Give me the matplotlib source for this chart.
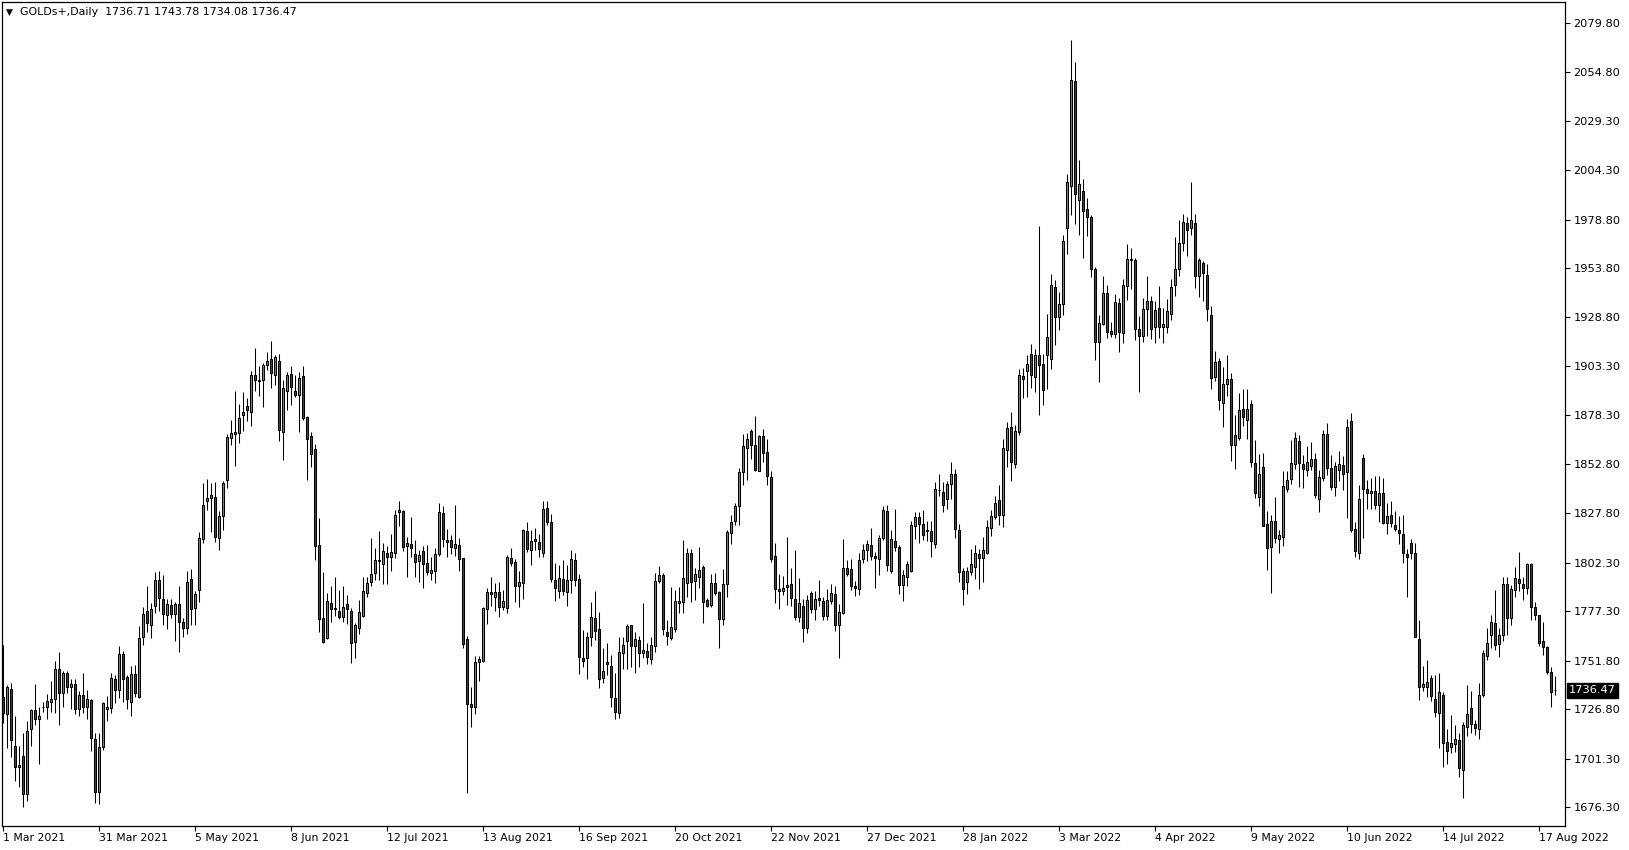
import numpy as np
import matplotlib.pyplot as plt

plt.rcParams['font.family'] = 'DejaVu Sans'

symbol = 'GOLDs+,Daily'
last_ohlc = (1736.71, 1743.78, 1734.08, 1736.47)

# daily bars, left to right (bar index = position)
opens = [
    1733.0, 1724.2, 1737.1, 1707.9, 1696.9, 1702.7, 1683.0, 1716.8, 1726.4, 1721.6,
    1727.8, 1727.8, 1730.4, 1732.1, 1747.4, 1735.0, 1745.3, 1738.1, 1739.7, 1726.8,
    1734.0, 1727.8, 1731.6, 1711.3, 1684.4, 1707.2, 1727.1, 1727.6, 1742.4, 1736.7,
    1755.3, 1743.3, 1730.4, 1745.0, 1733.3, 1763.8, 1777.1, 1770.2, 1780.0, 1793.2,
    1783.4, 1775.4, 1780.3, 1775.7, 1780.9, 1771.9, 1768.5, 1793.7, 1778.8, 1788.1,
    1814.3, 1833.8, 1835.5, 1836.0, 1814.9, 1826.5, 1844.9, 1866.4, 1868.6, 1869.0,
    1878.1, 1883.1, 1879.8, 1899.0, 1895.6, 1896.1, 1903.8, 1907.1, 1898.7, 1906.2,
    1869.3, 1890.4, 1899.5, 1890.8, 1888.7, 1898.5, 1877.2, 1867.6, 1860.9, 1811.4,
    1773.6, 1763.3, 1781.7, 1779.1, 1777.1, 1774.2, 1780.9, 1777.4, 1761.3, 1768.5,
    1775.0, 1786.5, 1792.2, 1796.8, 1803.2, 1801.5, 1807.1, 1804.9, 1807.1, 1828.1,
    1828.9, 1810.9, 1811.8, 1806.6, 1803.3, 1808.3, 1802.0, 1796.8, 1797.7, 1806.8,
    1827.7, 1814.0, 1814.0, 1809.7, 1811.1, 1804.5, 1763.2, 1729.3, 1728.1, 1751.3,
    1751.8, 1778.3, 1787.0, 1784.8, 1786.9, 1779.3, 1779.1, 1804.5, 1802.8, 1790.3,
    1791.7, 1818.6, 1808.5, 1813.5, 1812.8, 1807.1, 1830.5, 1823.1, 1793.4, 1787.9,
    1793.8, 1787.1, 1793.1, 1803.7, 1793.8, 1753.1, 1753.1, 1764.2, 1773.7, 1768.2,
    1743.1, 1751.0, 1749.1, 1732.5, 1724.7, 1755.7, 1761.7, 1770.3, 1759.1, 1762.5,
    1755.7, 1756.9, 1752.6, 1759.1, 1792.9, 1796.0, 1766.3, 1763.4, 1768.0, 1781.3,
    1781.9, 1792.0, 1807.1, 1793.0, 1795.1, 1799.9, 1783.1, 1780.5, 1791.6, 1787.3,
    1773.3, 1791.3, 1817.7, 1823.9, 1831.5, 1848.7, 1861.2, 1869.8, 1862.6, 1849.5,
    1867.2, 1859.0, 1846.1, 1805.7, 1788.9, 1787.9, 1789.6, 1791.1, 1783.4, 1774.5,
    1780.0, 1768.5, 1786.8, 1778.3, 1783.9, 1782.3, 1775.0, 1782.3, 1786.2, 1770.0,
    1776.3, 1799.4, 1798.9, 1790.3, 1788.6, 1804.1, 1808.5, 1811.1, 1805.8, 1804.2,
    1814.9, 1829.0, 1798.2, 1813.5, 1810.3, 1790.5, 1794.6, 1797.7, 1820.9, 1825.7,
    1822.3, 1818.9, 1818.3, 1812.0, 1839.5, 1838.6, 1835.2, 1842.5, 1847.9, 1819.2,
    1797.9, 1792.1, 1797.5, 1800.2, 1806.6, 1804.7, 1807.2, 1820.2, 1825.7, 1834.4,
    1827.0, 1860.0, 1872.0, 1853.2, 1869.7, 1898.4, 1900.7, 1909.4, 1897.8, 1908.9,
    1904.6, 1908.9, 1906.9, 1944.3, 1928.8, 1935.6, 1974.4, 1996.1, 2050.0, 1989.1,
    1993.4, 1984.3, 1980.2, 1953.4, 1915.6, 1925.3, 1941.1, 1921.3, 1919.9, 1935.9,
    1920.5, 1944.8, 1957.9, 1957.9, 1922.5, 1918.7, 1932.8, 1937.1, 1923.5, 1933.3,
    1923.5, 1923.5, 1930.4, 1945.0, 1953.4, 1966.8, 1977.1, 1974.5, 1977.1, 1949.6,
    1956.5, 1950.5, 1929.9, 1897.8, 1905.8, 1884.4, 1894.0, 1897.0, 1863.0, 1866.4,
    1881.3, 1875.8, 1883.9, 1853.5, 1836.0, 1851.5, 1822.1, 1810.2, 1823.8, 1814.4,
    1815.4, 1840.1, 1845.3, 1853.2, 1864.7, 1853.2, 1850.1, 1852.2, 1855.6, 1835.0,
    1845.8, 1868.5, 1850.9, 1841.0, 1849.7, 1852.7, 1848.9, 1875.0, 1819.5, 1807.1,
    1856.0, 1840.0, 1838.0, 1839.0, 1832.0, 1838.0, 1822.6, 1827.0, 1821.7, 1819.2,
    1817.1, 1806.8, 1812.3, 1807.1, 1763.0, 1738.1, 1738.4, 1742.7, 1732.1, 1725.0,
    1734.1, 1710.1, 1707.2, 1708.7, 1711.0, 1695.5, 1717.5, 1727.3, 1719.2, 1716.4,
    1734.1, 1754.2, 1765.1, 1771.1, 1760.4, 1765.0, 1791.3, 1773.6, 1788.2, 1793.7,
    1791.2, 1789.1, 1801.6, 1779.3, 1775.4, 1762.0, 1759.0, 1746.2, 1736.71,
]
highs = [
    1759.9, 1739.3, 1740.2, 1723.3, 1707.9, 1714.4, 1720.9, 1726.8, 1739.8, 1727.8,
    1730.4, 1734.7, 1741.4, 1751.7, 1756.0, 1746.7, 1746.7, 1742.2, 1742.4, 1736.4,
    1745.7, 1736.7, 1731.9, 1714.4, 1714.4, 1730.4, 1733.6, 1745.3, 1744.5, 1759.1,
    1757.0, 1744.5, 1749.1, 1749.6, 1769.4, 1779.3, 1790.3, 1781.7, 1797.4, 1798.0,
    1795.8, 1783.6, 1783.6, 1782.2, 1790.3, 1773.6, 1798.0, 1799.1, 1787.7, 1818.0,
    1843.2, 1845.3, 1843.2, 1843.9, 1828.6, 1844.1, 1868.6, 1875.5, 1890.4, 1884.1,
    1889.9, 1887.0, 1900.7, 1912.8, 1903.7, 1905.0, 1910.5, 1916.2, 1909.3, 1909.8,
    1896.4, 1900.2, 1903.7, 1899.0, 1900.2, 1903.3, 1877.9, 1869.3, 1863.5, 1825.2,
    1797.2, 1786.5, 1790.3, 1794.8, 1788.2, 1790.3, 1785.7, 1778.8, 1771.1, 1783.1,
    1795.1, 1795.1, 1814.9, 1809.7, 1818.6, 1812.3, 1810.9, 1817.1, 1829.5, 1834.1,
    1829.5, 1815.4, 1825.5, 1814.0, 1808.5, 1810.6, 1811.4, 1805.4, 1809.7, 1833.2,
    1831.5, 1819.7, 1816.6, 1832.0, 1814.8, 1804.5, 1764.5, 1738.4, 1754.2, 1754.2,
    1779.6, 1789.1, 1795.1, 1791.7, 1792.5, 1788.2, 1806.3, 1809.7, 1804.2, 1798.2,
    1819.5, 1823.4, 1819.1, 1820.0, 1817.1, 1834.1, 1834.0, 1827.4, 1802.0, 1801.2,
    1803.7, 1801.2, 1808.9, 1807.2, 1796.5, 1767.7, 1766.8, 1781.8, 1787.4, 1776.6,
    1758.2, 1760.8, 1754.8, 1745.4, 1764.2, 1764.2, 1770.8, 1770.3, 1766.8, 1764.6,
    1781.4, 1760.8, 1764.2, 1796.9, 1800.6, 1796.9, 1772.5, 1789.7, 1788.3, 1789.9,
    1814.0, 1810.0, 1809.2, 1799.4, 1810.5, 1801.1, 1783.9, 1796.3, 1796.8, 1787.9,
    1799.0, 1818.8, 1826.8, 1833.2, 1850.9, 1868.6, 1868.9, 1871.0, 1877.5, 1868.1,
    1871.0, 1865.8, 1849.2, 1812.3, 1796.5, 1795.4, 1815.7, 1799.4, 1808.8, 1794.2,
    1783.4, 1785.6, 1787.9, 1787.4, 1793.4, 1784.8, 1788.6, 1791.2, 1790.3, 1781.1,
    1814.5, 1803.7, 1804.2, 1792.9, 1807.2, 1811.8, 1813.7, 1820.0, 1807.7, 1816.6,
    1831.2, 1832.1, 1818.8, 1830.0, 1811.5, 1798.6, 1802.9, 1823.5, 1828.1, 1828.1,
    1829.5, 1823.5, 1823.5, 1843.6, 1848.0, 1843.7, 1844.5, 1854.2, 1850.3, 1822.2,
    1799.5, 1800.2, 1809.2, 1811.1, 1809.2, 1815.4, 1824.1, 1829.3, 1836.3, 1842.1,
    1865.8, 1874.5, 1879.8, 1873.2, 1901.7, 1902.6, 1908.9, 1914.7, 1912.3, 1975.4,
    1909.8, 1930.2, 1950.8, 1947.6, 1941.4, 1970.9, 2002.5, 2071.0, 2059.7, 2009.7,
    1999.6, 1990.0, 1981.4, 1954.5, 1929.9, 1950.0, 1945.4, 1925.9, 1940.7, 1938.5,
    1948.3, 1966.5, 1964.2, 1959.1, 1929.4, 1938.5, 1950.0, 1939.4, 1937.1, 1944.8,
    1933.3, 1938.0, 1948.3, 1969.9, 1978.5, 1981.8, 1980.0, 1998.2, 1981.8, 1959.1,
    1957.4, 1955.7, 1934.5, 1911.3, 1907.6, 1903.0, 1909.0, 1900.0, 1878.4, 1889.6,
    1891.5, 1891.5, 1885.8, 1865.5, 1858.2, 1858.7, 1829.0, 1826.9, 1836.0, 1819.2,
    1849.2, 1849.2, 1865.5, 1869.5, 1868.1, 1857.8, 1862.1, 1864.2, 1858.7, 1850.1,
    1870.7, 1874.1, 1857.8, 1853.9, 1859.9, 1856.9, 1876.2, 1879.3, 1823.0, 1842.0,
    1858.0, 1845.0, 1846.0, 1847.0, 1847.0, 1846.0, 1833.0, 1834.0, 1829.0, 1826.0,
    1827.0, 1809.2, 1814.3, 1812.3, 1772.8, 1749.1, 1752.2, 1744.4, 1744.4, 1745.3,
    1735.9, 1716.5, 1723.8, 1718.7, 1714.4, 1720.4, 1739.3, 1736.4, 1721.3, 1740.5,
    1757.3, 1768.5, 1775.4, 1788.2, 1768.5, 1795.1, 1795.1, 1790.8, 1800.2, 1807.6,
    1795.1, 1802.3, 1802.0, 1782.2, 1775.4, 1771.9, 1759.4, 1748.7, 1743.78,
]
lows = [
    1719.6, 1707.0, 1702.0, 1690.0, 1686.9, 1676.6, 1679.7, 1708.1, 1718.7, 1698.6,
    1725.2, 1721.6, 1725.6, 1724.7, 1718.7, 1728.1, 1735.0, 1727.0, 1724.2, 1723.3,
    1724.7, 1721.6, 1705.5, 1678.7, 1678.0, 1705.8, 1720.9, 1724.7, 1730.2, 1732.4,
    1730.7, 1727.0, 1723.5, 1733.3, 1732.4, 1759.9, 1766.3, 1763.3, 1776.2, 1777.1,
    1769.9, 1768.2, 1773.6, 1762.1, 1756.0, 1764.2, 1765.6, 1770.2, 1769.9, 1781.9,
    1812.6, 1829.5, 1817.8, 1813.0, 1808.5, 1819.2, 1840.6, 1863.0, 1851.8, 1863.8,
    1869.8, 1875.0, 1872.4, 1890.4, 1887.9, 1882.2, 1901.2, 1892.1, 1893.9, 1864.7,
    1854.9, 1881.0, 1883.6, 1887.5, 1869.3, 1875.8, 1844.6, 1851.5, 1803.4, 1766.8,
    1760.8, 1762.8, 1771.9, 1774.9, 1773.1, 1771.9, 1770.5, 1750.5, 1753.0, 1765.6,
    1774.2, 1784.8, 1790.0, 1793.4, 1793.4, 1791.3, 1791.3, 1798.2, 1804.4, 1820.9,
    1808.0, 1794.8, 1805.1, 1794.8, 1792.5, 1789.4, 1796.0, 1793.4, 1792.0, 1805.7,
    1810.2, 1805.4, 1806.8, 1805.7, 1797.7, 1758.5, 1683.8, 1717.5, 1724.2, 1741.5,
    1751.3, 1770.5, 1780.0, 1777.1, 1774.5, 1777.9, 1776.2, 1800.3, 1782.2, 1779.6,
    1783.6, 1807.5, 1801.1, 1808.8, 1805.1, 1805.0, 1821.4, 1792.1, 1782.3, 1784.0,
    1785.7, 1780.0, 1786.6, 1790.0, 1745.0, 1748.4, 1742.3, 1759.4, 1762.5, 1737.6,
    1740.2, 1744.5, 1727.8, 1721.7, 1722.2, 1747.4, 1747.4, 1748.4, 1745.7, 1748.4,
    1753.1, 1750.0, 1750.2, 1756.5, 1791.7, 1765.1, 1760.0, 1762.5, 1766.8, 1776.2,
    1776.2, 1784.8, 1782.2, 1783.1, 1789.1, 1771.4, 1779.6, 1779.3, 1785.6, 1758.2,
    1770.2, 1784.8, 1811.9, 1821.7, 1821.7, 1842.3, 1844.9, 1855.7, 1849.5, 1849.2,
    1854.3, 1842.3, 1802.8, 1781.7, 1778.2, 1785.6, 1780.5, 1780.0, 1772.8, 1771.9,
    1761.6, 1765.9, 1776.2, 1772.8, 1779.7, 1772.8, 1772.8, 1781.1, 1767.0, 1753.0,
    1775.9, 1795.5, 1788.3, 1785.2, 1785.7, 1802.0, 1802.9, 1803.7, 1789.1, 1796.0,
    1814.0, 1798.2, 1796.9, 1808.0, 1786.2, 1782.3, 1790.0, 1797.2, 1814.5, 1812.3,
    1814.0, 1813.2, 1805.4, 1809.7, 1836.4, 1828.1, 1829.9, 1835.2, 1815.0, 1792.1,
    1780.5, 1785.9, 1796.0, 1794.0, 1788.6, 1792.5, 1806.6, 1815.8, 1824.7, 1821.6,
    1820.8, 1851.3, 1844.5, 1850.7, 1868.1, 1886.8, 1887.5, 1892.0, 1890.0, 1878.4,
    1883.3, 1891.4, 1901.7, 1914.3, 1922.0, 1929.8, 1961.2, 1981.2, 1976.3, 1970.9,
    1958.9, 1970.6, 1949.3, 1906.7, 1895.0, 1924.7, 1917.9, 1918.4, 1917.9, 1910.5,
    1915.3, 1937.3, 1943.1, 1916.7, 1889.9, 1915.6, 1918.7, 1917.4, 1915.3, 1917.9,
    1915.3, 1920.4, 1927.3, 1939.7, 1949.6, 1962.5, 1959.9, 1971.1, 1943.6, 1938.8,
    1936.8, 1926.5, 1891.6, 1895.5, 1880.9, 1872.1, 1888.0, 1854.4, 1850.4, 1865.5,
    1872.4, 1865.9, 1851.5, 1835.5, 1831.5, 1820.9, 1798.6, 1786.5, 1812.3, 1807.1,
    1810.6, 1838.4, 1842.9, 1850.4, 1841.2, 1840.6, 1847.0, 1850.1, 1835.5, 1828.1,
    1844.1, 1847.5, 1839.8, 1836.3, 1844.1, 1839.8, 1825.2, 1817.8, 1805.1, 1804.0,
    1815.0, 1830.0, 1830.0, 1830.0, 1823.0, 1822.2, 1817.1, 1820.5, 1818.3, 1811.9,
    1802.3, 1784.5, 1804.0, 1763.9, 1731.6, 1736.4, 1732.9, 1731.2, 1723.0, 1706.7,
    1697.2, 1698.6, 1704.4, 1705.0, 1692.1, 1680.9, 1713.0, 1714.4, 1713.5, 1711.3,
    1733.3, 1752.2, 1758.2, 1757.3, 1753.9, 1762.1, 1765.0, 1770.2, 1784.5, 1787.4,
    1783.1, 1786.2, 1772.8, 1772.8, 1759.1, 1754.7, 1744.9, 1727.8, 1734.08,
]
closes = [
    1724.7, 1738.1, 1710.8, 1696.9, 1698.1, 1683.0, 1715.6, 1726.4, 1721.6, 1723.2,
    1728.2, 1730.9, 1732.1, 1747.4, 1735.0, 1745.3, 1738.1, 1739.7, 1726.8, 1734.0,
    1727.8, 1731.9, 1711.8, 1684.4, 1707.2, 1729.9, 1727.8, 1742.7, 1736.7, 1755.3,
    1742.6, 1732.1, 1745.0, 1735.4, 1763.3, 1775.7, 1771.1, 1778.3, 1793.2, 1784.0,
    1775.9, 1780.9, 1775.9, 1780.9, 1771.9, 1768.5, 1792.2, 1778.3, 1786.0, 1814.9,
    1831.9, 1835.5, 1837.2, 1815.4, 1826.4, 1843.2, 1866.9, 1869.0, 1869.5, 1876.7,
    1880.0, 1880.6, 1899.0, 1896.1, 1896.4, 1904.2, 1905.9, 1899.9, 1907.9, 1870.3,
    1892.1, 1899.0, 1892.5, 1888.4, 1897.3, 1876.7, 1865.9, 1858.3, 1810.9, 1773.1,
    1761.3, 1782.6, 1778.3, 1778.3, 1774.5, 1779.3, 1778.3, 1760.8, 1770.0, 1776.7,
    1787.7, 1791.7, 1796.3, 1803.7, 1803.6, 1808.3, 1805.4, 1807.7, 1826.9, 1829.5,
    1810.1, 1812.6, 1809.7, 1802.8, 1806.3, 1801.5, 1797.3, 1798.5, 1806.6, 1828.2,
    1814.3, 1813.1, 1810.2, 1811.8, 1804.0, 1760.4, 1729.3, 1728.1, 1751.3, 1752.5,
    1778.8, 1787.0, 1786.0, 1787.0, 1779.6, 1782.6, 1805.1, 1802.3, 1790.3, 1792.2,
    1819.1, 1809.4, 1813.5, 1814.3, 1809.4, 1830.0, 1823.1, 1793.8, 1789.1, 1794.3,
    1787.4, 1793.4, 1804.1, 1793.4, 1753.6, 1751.4, 1763.9, 1774.2, 1767.3, 1742.3,
    1746.7, 1750.0, 1733.3, 1725.6, 1756.5, 1760.0, 1769.7, 1759.6, 1763.0, 1755.7,
    1757.4, 1753.6, 1760.0, 1792.9, 1796.0, 1768.0, 1764.6, 1769.0, 1782.3, 1782.5,
    1794.2, 1807.1, 1792.5, 1796.5, 1798.5, 1782.2, 1780.1, 1791.6, 1786.8, 1773.3,
    1791.1, 1817.9, 1823.4, 1831.5, 1849.0, 1862.1, 1865.8, 1862.6, 1850.0, 1867.2,
    1858.6, 1847.0, 1804.0, 1788.6, 1787.9, 1789.4, 1790.8, 1783.9, 1774.1, 1781.3,
    1768.5, 1783.1, 1778.3, 1783.5, 1783.0, 1775.0, 1783.1, 1786.6, 1770.0, 1776.8,
    1799.4, 1796.3, 1790.3, 1789.1, 1803.7, 1808.9, 1811.8, 1805.8, 1804.4, 1814.9,
    1829.5, 1800.8, 1814.4, 1810.1, 1790.5, 1796.0, 1801.7, 1821.8, 1825.7, 1822.3,
    1816.3, 1818.4, 1813.2, 1840.1, 1839.6, 1831.7, 1842.9, 1847.9, 1819.6, 1797.5,
    1788.6, 1797.9, 1801.4, 1807.0, 1804.7, 1808.6, 1820.6, 1826.1, 1833.2, 1827.0,
    1861.5, 1871.6, 1854.2, 1870.1, 1898.8, 1896.8, 1904.6, 1898.8, 1908.9, 1904.0,
    1891.0, 1918.5, 1945.3, 1928.8, 1935.6, 1967.6, 1998.1, 2050.6, 1991.9, 1997.1,
    1983.1, 1980.0, 1953.4, 1915.6, 1925.6, 1941.1, 1920.8, 1919.9, 1936.4, 1920.8,
    1945.4, 1958.6, 1958.3, 1922.5, 1918.7, 1932.8, 1937.1, 1922.5, 1932.5, 1923.5,
    1925.3, 1931.6, 1944.2, 1953.4, 1966.8, 1977.5, 1973.3, 1978.5, 1949.6, 1957.9,
    1951.4, 1932.8, 1897.3, 1905.3, 1886.1, 1894.0, 1897.0, 1863.0, 1868.1, 1881.0,
    1877.2, 1881.3, 1853.9, 1838.1, 1847.9, 1821.2, 1809.7, 1823.5, 1814.9, 1816.6,
    1841.5, 1844.9, 1853.5, 1866.4, 1853.5, 1850.4, 1853.9, 1855.6, 1837.2, 1846.3,
    1868.5, 1850.9, 1841.0, 1851.8, 1853.2, 1848.0, 1872.1, 1818.8, 1808.0, 1835.0,
    1840.0, 1838.0, 1839.0, 1832.0, 1838.0, 1822.6, 1826.0, 1822.6, 1819.5, 1817.4,
    1807.1, 1805.1, 1807.1, 1764.2, 1738.4, 1739.8, 1741.0, 1733.6, 1725.6, 1735.5,
    1709.6, 1705.5, 1709.3, 1711.3, 1696.4, 1718.7, 1724.3, 1719.2, 1717.0, 1734.1,
    1755.6, 1761.1, 1771.9, 1759.9, 1765.0, 1791.3, 1773.6, 1788.7, 1794.2, 1792.0,
    1789.4, 1801.6, 1779.3, 1775.4, 1761.1, 1759.0, 1746.2, 1735.9, 1736.47,
]

date_labels = ['1 Mar 2021', '31 Mar 2021', '5 May 2021', '8 Jun 2021', '12 Jul 2021',
               '13 Aug 2021', '16 Sep 2021', '20 Oct 2021', '22 Nov 2021', '27 Dec 2021',
               '28 Jan 2022', '3 Mar 2022', '4 Apr 2022', '9 May 2022', '10 Jun 2022',
               '14 Jul 2022', '17 Aug 2022']
date_label_bars = [0, 24, 48, 72, 96, 120, 144, 168, 192, 216, 240, 264, 288, 312, 336, 360, 384]
price_ticks = [2079.80, 2054.80, 2029.30, 2004.30, 1978.80, 1953.80, 1928.80, 1903.30,
               1878.30, 1852.80, 1827.80, 1802.30, 1777.30, 1751.80, 1726.80, 1701.30, 1676.30]

assert len(opens) == len(highs) == len(lows) == len(closes)

o = np.array(opens)
h = np.array(highs)
l = np.array(lows)
c = np.array(closes)
x = np.arange(len(o))

W, H = 1629, 850
fig = plt.figure(figsize=(W / 100, H / 100), dpi=100)
ax = fig.add_axes([2 / W, 1 - 826 / H, (1565 - 2) / W, (826 - 2) / H])

bull = '#00d800'
bear = '#e80000'
ax.vlines(x, l, h, color='black', linewidth=0.75, zorder=1)
body_bottom = np.minimum(o, c)
body_height = np.maximum(np.abs(c - o), 0.25)
colors = np.where(c >= o, bull, bear)
ax.bar(x, body_height, bottom=body_bottom, width=0.5, color=colors,
       edgecolor='black', linewidth=0.75, zorder=2)

ax.set_xlim(-0.33, 390.4)
ax.set_ylim(1666.7, 2090.8)

for s in ax.spines.values():
    s.set_color('black')
    s.set_linewidth(0.9)

ax.yaxis.tick_right()
ax.set_yticks(price_ticks)
ax.set_yticklabels([f'{p:.2f}' for p in price_ticks])
ax.set_xticks(date_label_bars)
ax.set_xticklabels(date_labels, ha='left')
ax.tick_params(axis='both', direction='out', length=3.5, width=0.8, color='black',
               labelsize=8.2, labelcolor='black')
ax.tick_params(axis='y', pad=2.5)
ax.tick_params(axis='x', pad=1.5, labelsize=7.8)

# current price box on the price scale
last = last_ohlc[3]
ax.annotate(f'{last:.2f}', xy=(1.0, last), xycoords=('axes fraction', 'data'),
            xytext=(3, 0), textcoords='offset points', ha='left', va='center',
            fontsize=8.2, color='white',
            bbox=dict(boxstyle='square,pad=0.2', fc='black', ec='black'))

# header
fig.text(6 / W, 1 - 12 / H, '\u25bc', fontsize=6.5, ha='left', va='center')
fig.text(20 / W, 1 - 12 / H,
         f'{symbol}  ' + ' '.join(f'{v:.2f}' for v in last_ohlc),
         fontsize=7.9, ha='left', va='center')

fig.savefig('out.png', dpi=100, facecolor='white')
